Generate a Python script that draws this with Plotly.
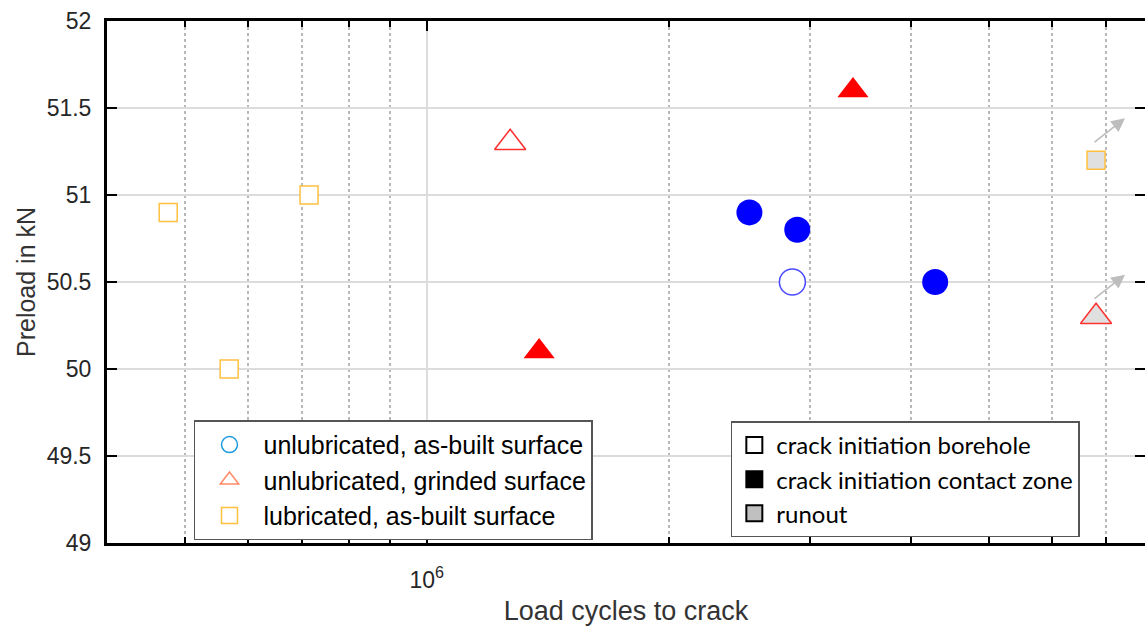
import math
import plotly.graph_objects as go

# ---------------- data ----------------
# unlubricated, as-built surface (circles)
circ_x = [2.52e6, 2.89e6, 2.85e6, 4.29e6]
circ_y = [50.9, 50.8, 50.5, 50.5]
circ_state = ["contact", "contact", "borehole", "contact"]

# unlubricated, grinded surface (triangles)
tri_x = [1.27e6, 1.38e6, 3.39e6, 6.80e6]
tri_y = [51.3, 50.1, 51.6, 50.3]
tri_state = ["borehole", "contact", "contact", "runout"]

# lubricated, as-built surface (squares)
sq_x = [4.77e5, 7.14e5, 5.68e5, 6.80e6]
sq_y = [50.9, 51.0, 50.0, 51.2]
sq_state = ["borehole", "borehole", "borehole", "runout"]

series_names = ["unlubricated, as-built surface",
                "unlubricated, grinded surface",
                "lubricated, as-built surface"]
state_names = ["crack initiation borehole",
               "crack initiation contact zone",
               "runout"]

y_ticks = [49, 49.5, 50, 50.5, 51, 51.5, 52]
y_ticklabels = ["49", "49.5", "50", "50.5", "51", "51.5", "52"]
x_major = [1e6]
x_major_labels = ["10<sup>6</sup>"]
x_minor = [5e5, 6e5, 7e5, 8e5, 9e5, 2e6, 3e6, 4e6, 5e6, 6e6, 7e6]

# ---------------- styles ----------------
groups = [
    dict(x=circ_x, y=circ_y, st=circ_state, symbol="circle", size=26,
         fill={"contact": "#0000ff", "borehole": "white", "runout": "#e0e0e0"},
         line={"contact": "#0000ff", "borehole": "#4a4aff", "runout": "#4a4aff"},
         lw={"contact": 0, "borehole": 1.5, "runout": 1.5}),
    dict(x=tri_x, y=tri_y, st=tri_state, symbol="triangle-up", size=27,
         fill={"contact": "#ff0000", "borehole": "white", "runout": "#e0e0e0"},
         line={"contact": "#ff0000", "borehole": "#ff3030", "runout": "#ff3030"},
         lw={"contact": 0, "borehole": 1.5, "runout": 1.5}),
    dict(x=sq_x, y=sq_y, st=sq_state, symbol="square", size=18,
         fill={"contact": "#ffc040", "borehole": "white", "runout": "#e0e0e0"},
         line={"contact": "#ffc040", "borehole": "#ffc040", "runout": "#ffc040"},
         lw={"contact": 0, "borehole": 1.5, "runout": 1.5}),
]

fig = go.Figure()

for g in groups:
    for xv, yv, st in zip(g["x"], g["y"], g["st"]):
        fig.add_trace(go.Scatter(
            x=[xv], y=[yv], mode="markers", showlegend=False, hoverinfo="skip",
            marker=dict(symbol=g["symbol"], size=g["size"], color=g["fill"][st],
                        line=dict(color=g["line"][st], width=g["lw"][st]))))
        if st == "runout":
            # annotation x on a log axis is given in log10 units
            fig.add_annotation(x=math.log10(xv), y=yv, xref="x", yref="y", text="",
                               showarrow=True, ax=-32, ay=25, axref="pixel", ayref="pixel",
                               xshift=29, yshift=42, arrowhead=2, arrowsize=1.7,
                               arrowwidth=1.6, arrowcolor="#bdbdbd")

# legend 1 (series)
leg1_sym = ["circle-open", "triangle-up-open", "square-open"]
leg1_col = ["#1a9be0", "#ff8a66", "#ffc040"]
for i, (nm, sy, c) in enumerate(zip(series_names, leg1_sym, leg1_col)):
    fig.add_trace(go.Scatter(x=[None], y=[None], mode="markers", name=nm,
                             legend="legend",
                             marker=dict(symbol=sy, size=26, color=c, line=dict(width=1.5, color=c))))

# legend 2 (states)
leg2_fill = ["white", "black", "#c0c0c0"]
for i, (nm, c) in enumerate(zip(state_names, leg2_fill)):
    fig.add_trace(go.Scatter(x=[None], y=[None], mode="markers", name=nm,
                             legend="legend2",
                             marker=dict(symbol="square", size=26, color=c,
                                         line=dict(width=2, color="black"))))

axis_font = dict(family="Liberation Sans, Arial", size=23, color="#262626")

fig.update_layout(
    width=1145, height=626,
    margin=dict(l=107, r=0, t=21, b=83, autoexpand=False),
    paper_bgcolor="white", plot_bgcolor="white",
    showlegend=True,
    legend=dict(x=0.0838, y=0.235, xanchor="left", yanchor="top",
                bgcolor="white", bordercolor="#555555", borderwidth=1.5,
                font=dict(family="Liberation Sans, Arial", size=25, color="black"),
                traceorder="normal", itemsizing="trace", itemwidth=58),
    legend2=dict(x=0.601, y=0.233, xanchor="left", yanchor="top",
                 bgcolor="white", bordercolor="#555555", borderwidth=1.5,
                 font=dict(family="Lato, Open Sans", size=24, color="black"),
                 traceorder="normal", itemsizing="trace", itemwidth=34),
    xaxis=dict(type="log", range=[5.6024, 6.8934],
               tickmode="array", tickvals=x_major, ticktext=x_major_labels,
               ticks="inside", ticklen=10, tickwidth=2, tickcolor="black",
               showline=True, linewidth=3, linecolor="black", mirror="ticks",
               showgrid=True, gridcolor="#dcdcdc", gridwidth=2, zeroline=False,
               tickfont=axis_font, ticklabelstandoff=14,
               minor=dict(tickmode="array", tickvals=x_minor, ticks="inside", ticklen=6,
                          tickwidth=2, tickcolor="black", showgrid=True,
                          gridcolor="#b8b8b8", gridwidth=2, griddash="dot"),
               title=dict(text="Load cycles to crack", standoff=19,
                          font=dict(family="Liberation Sans, Arial", size=27, color="#333333"))),
    yaxis=dict(range=[49, 52], tickmode="array", tickvals=y_ticks, ticktext=y_ticklabels,
               ticks="inside", ticklen=10, tickwidth=2, tickcolor="black",
               showline=True, linewidth=3, linecolor="black", mirror="ticks",
               showgrid=True, gridcolor="#dcdcdc", gridwidth=2, zeroline=False,
               tickfont=axis_font, ticklabelstandoff=8,
               title=dict(text="Preload in kN", standoff=4,
                          font=dict(family="Liberation Sans, Arial", size=25, color="#333333"))),
)

fig.write_html("out.html")
